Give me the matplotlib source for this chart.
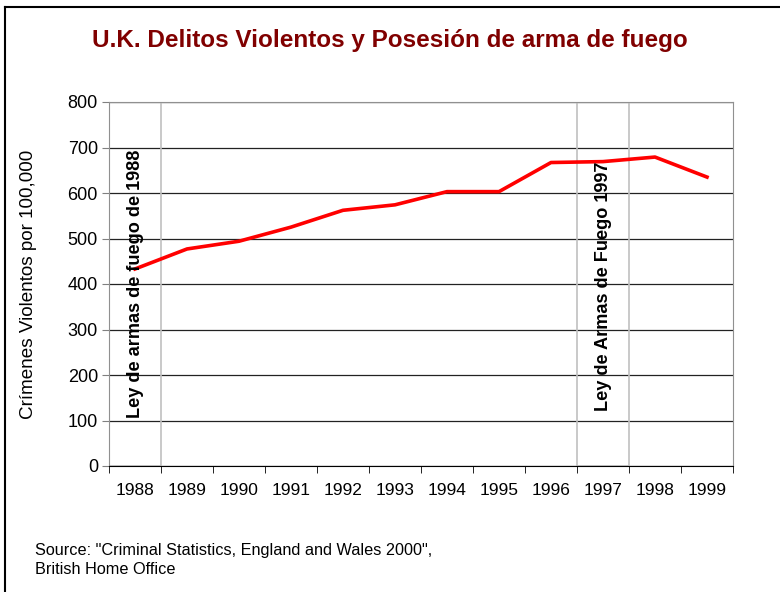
import matplotlib
matplotlib.use("Agg")
import matplotlib.pyplot as plt
from matplotlib.lines import Line2D

plt.rcParams['font.family'] = ['Liberation Sans', 'DejaVu Sans']

years = ["1988", "1989", "1990", "1991", "1992", "1993",
         "1994", "1995", "1996", "1997", "1998", "1999"]
crimes = [433, 477, 494, 525, 562, 574, 603, 603, 667, 669, 679, 635]
law_years = ["1988", "1997"]
law_labels = ["Ley de armas de fuego de 1988", "Ley de Armas de Fuego 1997"]

fig = plt.figure(figsize=(7.8, 5.92), dpi=100)
ax = fig.add_axes([109 / 780, 1 - 466 / 592, 624 / 780, 364 / 592])

x = list(range(len(years)))

# law markers as full-height empty columns
for yr, lab in zip(law_years, law_labels):
    i = years.index(yr)
    ax.bar(i, 800, width=1.0, facecolor="none", edgecolor="#c0c0c0",
           linewidth=1.2, zorder=1)
    ax.text(i, 400 if i == 0 else 395, lab, rotation=90, ha="center",
            va="center", fontsize=13.1, fontweight="bold", zorder=4)

ax.plot(x, crimes, color="#ff0000", linewidth=2.6, zorder=3)

ax.set_xlim(-0.5, len(years) - 0.5)
ax.set_ylim(0, 800)
ax.set_yticks(range(0, 801, 100))
ax.yaxis.grid(True, color="#222222", linewidth=0.9)
ax.set_axisbelow(True)

ax.set_xticks(x)
ax.set_xticklabels(years)
ax.set_xticks([i - 0.5 for i in range(len(years) + 1)], minor=True)
ax.tick_params(axis="x", which="major", length=0, pad=12, labelsize=12.5)
ax.tick_params(axis="x", which="minor", length=5, color="black")
ax.tick_params(axis="y", length=5, color="#808080", labelsize=13, pad=3)

for s in ["left", "top", "right"]:
    ax.spines[s].set_color("#909090")
ax.spines["bottom"].set_color("black")

ax.set_ylabel("Crímenes Violentos por 100,000", fontsize=13.6, labelpad=22)

fig.text(0.5, 1 - 41 / 592, "U.K. Delitos Violentos y Posesión de arma de fuego",
         ha="center", va="center", fontsize=17.5, fontweight="bold",
         color="#800000")
fig.text(35 / 780, 1 - 550 / 592,
         "Source: \"Criminal Statistics, England and Wales 2000\",",
         ha="left", va="center", fontsize=11.7)
fig.text(35 / 780, 1 - 570 / 592, "British Home Office",
         ha="left", va="center", fontsize=11.7)

# figure frame (top and left edges)
fig.add_artist(Line2D([5 / 780, 1], [1 - 6.5 / 592, 1 - 6.5 / 592],
                      transform=fig.transFigure, color="black", linewidth=1.5))
fig.add_artist(Line2D([5 / 780, 5 / 780], [0, 1 - 6.5 / 592],
                      transform=fig.transFigure, color="black", linewidth=1.5))

fig.savefig("out.png", dpi=100)
